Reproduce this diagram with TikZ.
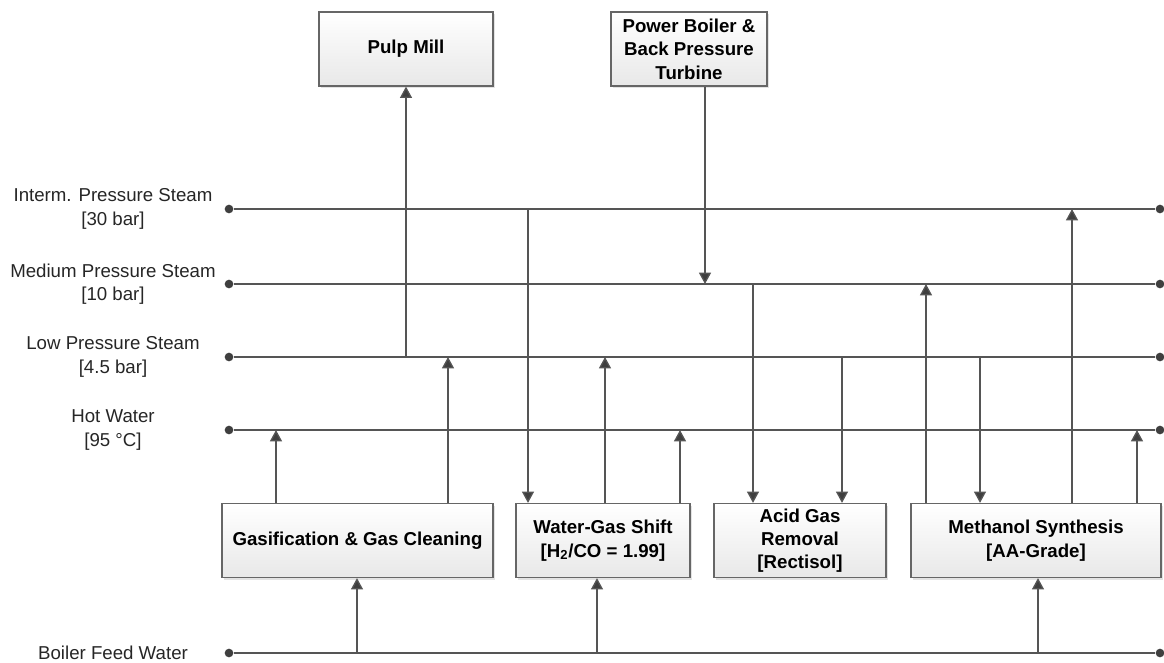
\documentclass[tikz,border=0pt]{standalone}
\usepackage{fontspec}
\setmainfont{Liberation Sans}
\usepackage{xcolor}
\definecolor{BusGray}{HTML}{555555}
\definecolor{EdgeGray}{HTML}{666666}
\definecolor{TipGray}{HTML}{3F3F3F}
\usepackage{tikz}
\usetikzlibrary{arrows.meta,shadows}

\begin{document}
\begin{tikzpicture}[x=0.75pt,y=-0.75pt,
unit/.style={draw=EdgeGray,line width=0.9pt,top color=white,bottom color=black!9,
  drop shadow={shadow xshift=1.8pt,shadow yshift=-1.8pt,fill=black!22},
  align=center,inner sep=2pt,minimum height=55.5pt,
  font=\fontsize{14}{17.5}\selectfont\bfseries},
lbl/.style={align=center,font=\fontsize{14}{17.5}\selectfont,text=black!85},
bus/.style={draw=BusGray,line width=1pt},
dot/.style={circle,fill=TipGray,inner sep=0pt,minimum size=6.5pt},
flow/.style={draw=BusGray,line width=1pt,-{Triangle[length=8.5pt,width=9pt,fill=TipGray]}}]
\useasboundingbox (0,0) rectangle (1164,662);
% units
\node[unit,minimum width=130.5pt] (pulp) at (406,49) {Pulp Mill};
\node[unit,minimum width=117pt] (power) at (689,49) {Power Boiler \&\\Back Pressure\\Turbine};
\node[unit,minimum width=203.25pt] (gas) at (357.5,540.5) {Gasification \& Gas Cleaning};
\node[unit,minimum width=130.5pt] (wgs) at (603,540.5) {Water-Gas Shift\\{}[H\textsubscript{2}/CO = 1.99]};
\node[unit,minimum width=129pt] (agr) at (800,540.5) {Acid Gas\\Removal\\{}[Rectisol]};
\node[unit,minimum width=187.5pt] (meth) at (1036,540.5) {Methanol Synthesis\\{}[AA-Grade]};
% headers
\foreach \n/\y/\t in {ip/209/{Interm. Pressure Steam\\{}[30 bar]},
  mp/284/{Medium Pressure Steam\\{}[10 bar]},
  lp/357/{Low Pressure Steam\\{}[4.5 bar]},
  hw/430/{Hot Water\\{}[95 °C]},
  bfw/653/{Boiler Feed Water}}{
  \node[dot] (\n L) at (229,\y) {};
  \node[dot] (\n R) at (1160,\y) {};
  \draw[bus] (\n L) -- (\n R);
  \node[lbl] (\n txt) at (113,\y) {\t};
}
% taps on the headers
\coordinate (hw1) at (276,430);
\coordinate (lp1) at (448,357);
\coordinate (lp2) at (406,357);
\coordinate (ip1) at (528,209);
\coordinate (lp3) at (605,357);
\coordinate (hw2) at (680,430);
\coordinate (mp1) at (705,284);
\coordinate (mp2) at (753,284);
\coordinate (lp4) at (842,357);
\coordinate (mp3) at (926,284);
\coordinate (lp5) at (980,357);
\coordinate (ip2) at (1072,209);
\coordinate (hw3) at (1137,430);
\coordinate (bfw1) at (357,653);
\coordinate (bfw2) at (597,653);
\coordinate (bfw3) at (1038,653);
% steam and water flows
\draw[flow] (lp2) -- (lp2 |- pulp.south);
\draw[flow] (mp1 |- power.south) -- (mp1);
\draw[flow] (hw1 |- gas.north) -- (hw1);
\draw[flow] (lp1 |- gas.north) -- (lp1);
\draw[flow] (ip1) -- (ip1 |- wgs.north);
\draw[flow] (lp3 |- wgs.north) -- (lp3);
\draw[flow] (hw2 |- wgs.north) -- (hw2);
\draw[flow] (mp2) -- (mp2 |- agr.north);
\draw[flow] (lp4) -- (lp4 |- agr.north);
\draw[flow] (mp3 |- meth.north) -- (mp3);
\draw[flow] (lp5) -- (lp5 |- meth.north);
\draw[flow] (ip2 |- meth.north) -- (ip2);
\draw[flow] (hw3 |- meth.north) -- (hw3);
\draw[flow] (bfw1) -- (bfw1 |- gas.south);
\draw[flow] (bfw2) -- (bfw2 |- wgs.south);
\draw[flow] (bfw3) -- (bfw3 |- meth.south);
\end{tikzpicture}
\end{document}
